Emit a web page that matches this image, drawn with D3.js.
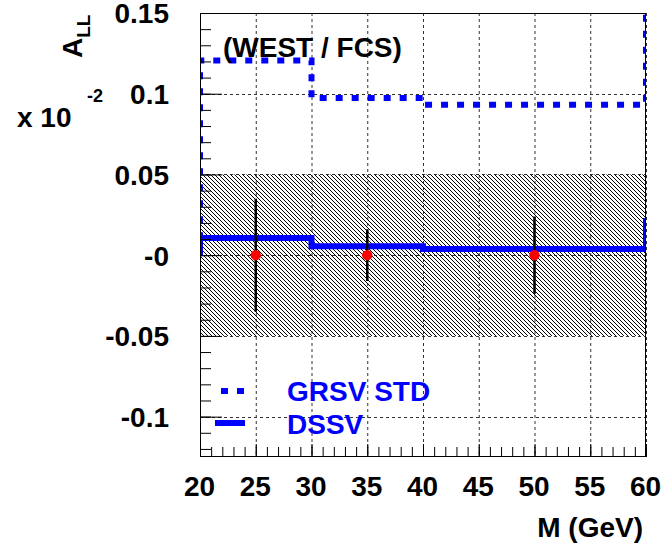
<!DOCTYPE html>
<html>
<head>
<meta charset="utf-8">
<script src="https://cdn.jsdelivr.net/npm/d3@7/dist/d3.min.js"></script>
<style>
  html, body { margin: 0; padding: 0; background: #fff; }
  svg text { font-family: "Liberation Sans", Arial, Helvetica, sans-serif; font-weight: bold; }
</style>
</head>
<body>
<svg id="chart" width="666" height="550"></svg>
<script>
// ---- data ----
const binEdges = [20, 30, 40, 60];
const grsvValues = [0.1206, 0.0973, 0.0932];
const grsvRightEdge = 0.16;
const dssvValues = [0.0107, 0.0056, 0.0039];
const dssvRightEdge = 0.023;
const pointMass = [25, 35, 50];
const pointALL = [0, 0, 0];
const pointErr = [0.035, 0.016, 0.024];
const bandRange = [-0.05, 0.05];
const xTickValues = [20, 25, 30, 35, 40, 45, 50, 55, 60];
const yTickValues = [-0.1, -0.05, 0, 0.05, 0.1, 0.15];
const yTickLabels = ["-0.1", "-0.05", "-0", "0.05", "0.1", "0.15"];
const legendLabels = ["GRSV STD", "DSSV"];

// ---- layout ----
const X0 = 200, X1 = 646, Y0 = 13, Y1 = 457;
const blue = "#0000ff";
const svg = d3.select("#chart");
const x = d3.scaleLinear().domain([20, 60]).range([X0, X1]);
const y = d3.scaleLinear().domain([-0.125, 0.15]).range([Y1, Y0]);

const defs = svg.append("defs");
defs.append("clipPath").attr("id", "clip").append("rect")
  .attr("x", X0).attr("y", Y0).attr("width", X1 - X0).attr("height", Y1 - Y0);
const pat = defs.append("pattern").attr("id", "hatch")
  .attr("patternUnits", "userSpaceOnUse").attr("width", 4).attr("height", 4);
pat.append("rect").attr("width", 4).attr("height", 4).attr("fill", "#fff");
pat.append("path").attr("d", "M-1,-1L5,5M-1,3L1,5M3,-1L5,1")
  .attr("stroke", "#000").attr("stroke-width", 1);

// band
svg.append("rect")
  .attr("x", X0).attr("width", X1 - X0)
  .attr("y", y(bandRange[1])).attr("height", y(bandRange[0]) - y(bandRange[1]))
  .attr("fill", "url(#hatch)");

// grid
const grid = svg.append("g").attr("stroke", "#000").attr("stroke-width", 1)
  .attr("stroke-dasharray", "3,3").attr("opacity", 0.8);
grid.selectAll(".gx").data(xTickValues).join("line")
  .attr("x1", d => x(d) + 0.5).attr("x2", d => x(d) + 0.5).attr("y1", Y0).attr("y2", Y1);
grid.selectAll(".gy").data(yTickValues).join("line")
  .attr("x1", X0).attr("x2", X1).attr("y1", d => Math.round(y(d)) + 0.5).attr("y2", d => Math.round(y(d)) + 0.5);

// histograms
function histPoints(vals, rightEdge) {
  const pts = [[binEdges[0], 0]];
  vals.forEach((v, i) => { pts.push([binEdges[i], v]); pts.push([binEdges[i + 1], v]); });
  pts.push([binEdges[binEdges.length - 1], rightEdge]);
  return pts;
}
const line = d3.line().x(d => x(d[0])).y(d => y(d[1]));
const plot = svg.append("g").attr("clip-path", "url(#clip)");
plot.append("path").attr("d", line(histPoints(dssvValues, dssvRightEdge)))
  .attr("fill", "none").attr("stroke", blue).attr("stroke-width", 6);
plot.append("path").attr("d", line(histPoints(grsvValues, grsvRightEdge)))
  .attr("fill", "none").attr("stroke", blue).attr("stroke-width", 6)
  .attr("stroke-dasharray", "7,9");

// error bars and points
const pts = pointMass.map((m, i) => ({ m, v: pointALL[i], e: pointErr[i] }));
svg.selectAll(".err").data(pts).join("line")
  .attr("x1", d => x(d.m)).attr("x2", d => x(d.m))
  .attr("y1", d => y(d.v + d.e)).attr("y2", d => y(d.v - d.e))
  .attr("stroke", "#000").attr("stroke-width", 2.5);
svg.selectAll(".pt").data(pts).join("circle")
  .attr("cx", d => x(d.m)).attr("cy", d => y(d.v)).attr("r", 5.2).attr("fill", "#ff0000");

// frame
svg.append("rect").attr("x", X0 + 0.5).attr("y", Y0 + 0.5)
  .attr("width", X1 - X0 - 1).attr("height", Y1 - Y0 - 1)
  .attr("fill", "none").attr("stroke", "#000").attr("stroke-width", 1);

// axes
const yMinor = d3.range(-0.12, 0.1501, 0.01);
const gyMinor = svg.append("g").attr("transform", `translate(${X0},0)`)
  .call(d3.axisLeft(y).tickValues(yMinor).tickSizeInner(-11).tickSizeOuter(0).tickFormat(""));
const gy = svg.append("g").attr("transform", `translate(${X0},1)`)
  .call(d3.axisLeft(y).tickValues(yTickValues).tickSizeInner(-22).tickSizeOuter(0).tickPadding(31)
    .tickFormat((d, i) => yTickLabels[i]));
gy.selectAll("line").attr("transform", "translate(0,-1)");
const xMinor = d3.range(20, 60.01, 1);
const gxMinor = svg.append("g").attr("transform", `translate(0,${Y1})`)
  .call(d3.axisBottom(x).tickValues(xMinor).tickSizeInner(-10).tickSizeOuter(0).tickFormat(""));
const gx = svg.append("g").attr("transform", `translate(0,${Y1})`)
  .call(d3.axisBottom(x).tickValues(xTickValues).tickSizeInner(-13).tickSizeOuter(0).tickPadding(19)
    .tickFormat(d3.format("d")));
gx.selectAll("text").attr("dx", -1);
[gyMinor, gy, gxMinor, gx].forEach(g => {
  g.select(".domain").remove();
  g.selectAll("line").attr("stroke", "#000").attr("stroke-width", 1);
  g.selectAll("text").attr("fill", "#000").attr("font-size", 28)
    .attr("font-family", "'Liberation Sans', Arial, sans-serif").attr("font-weight", "bold");
});

// texts
svg.append("text").attr("x", 643).attr("y", 537).attr("text-anchor", "end")
  .attr("font-size", 28).text("M (GeV)");
const yl = svg.append("text").attr("transform", "translate(82,58) rotate(-90)")
  .attr("font-size", 28);
yl.append("tspan").text("A");
yl.append("tspan").attr("font-size", 19).attr("dy", 8).text("LL");
svg.append("text").attr("x", 17).attr("y", 127).attr("font-size", 28).text("x 10");
svg.append("text").attr("x", 87).attr("y", 102).attr("font-size", 18).text("-2");
svg.append("text").attr("x", 223).attr("y", 57).attr("font-size", 28).text("(WEST / FCS)");

// legend
svg.append("line").attr("x1", 221).attr("x2", 245).attr("y1", 391).attr("y2", 391)
  .attr("stroke", blue).attr("stroke-width", 6).attr("stroke-dasharray", "7,9");
svg.append("line").attr("x1", 215).attr("x2", 245).attr("y1", 423).attr("y2", 423)
  .attr("stroke", blue).attr("stroke-width", 6);
svg.selectAll(".leg").data(legendLabels).join("text")
  .attr("x", 287).attr("y", (d, i) => 401 + i * 33)
  .attr("font-size", 28).attr("fill", blue).text(d => d);
</script>
</body>
</html>
